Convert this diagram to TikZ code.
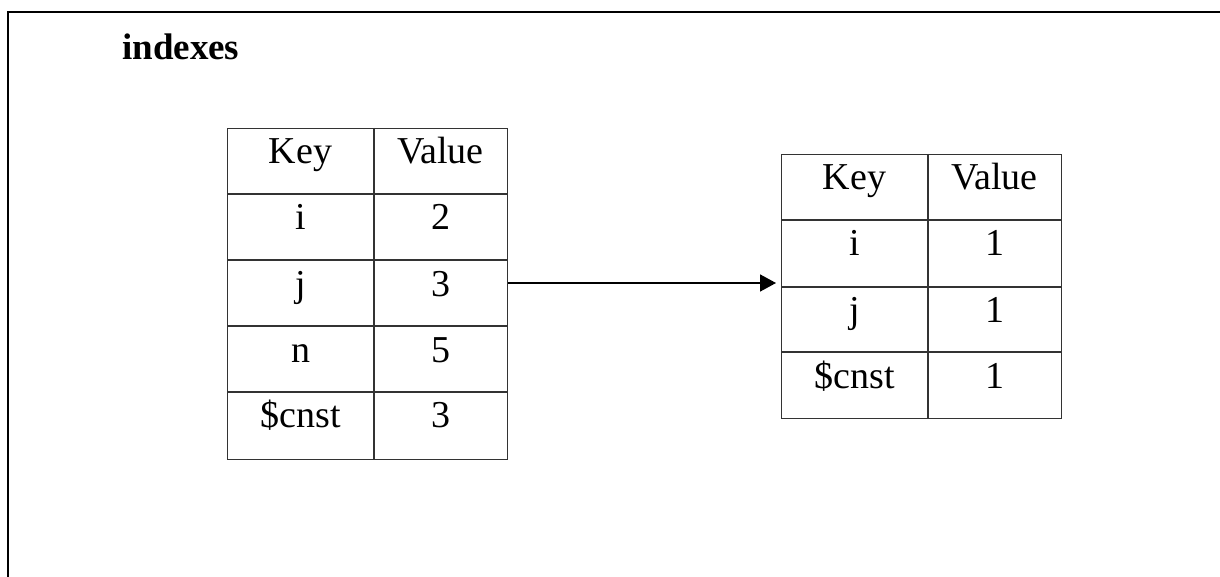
\documentclass[tikz,border=0pt]{standalone}
\usepackage{fontspec}
\setmainfont{Liberation Serif}
\usetikzlibrary{arrows.meta}
\begin{document}
\begin{tikzpicture}[x=1pt,y=-1pt,
  grid/.style={draw=black!80,line width=1.1pt},
  frame/.style={draw=black,line width=2pt},
  celltext/.style={anchor=base,inner sep=0pt,font=\fontsize{38}{42}\selectfont},
  title/.style={anchor=base west,inner sep=0pt,font=\fontsize{37}{42}\selectfont\bfseries},
  conn/.style={draw=black,line width=1.6pt,-{Triangle[length=16pt,width=17pt]}}]
\useasboundingbox (0,0) rectangle (1220,577);
% outer frame (top and left edges only visible)
\draw[frame] (7.5,577) -- (7.5,11.7) -- (1220,11.7);
\node[title] (ttl) at (122,60) {indexes};
% left table
\node[grid,minimum width=280,minimum height=331,inner sep=0pt,anchor=north west] (LT) at (227,128) {};
\draw[grid] (374,128) -- (374,459);
\foreach \y in {194,260,326,392} \draw[grid] (227,\y) -- (507,\y);
\foreach \k/\v/\b [count=\i] in {Key/Value/164, i/2/230, j/3/296, n/5/362, \$cnst/3/427}{
  \node[celltext] (Lk\i) at (300.5,\b) {\k};
  \node[celltext] (Lv\i) at (440.5,\b) {\v};
}
% right table
\node[grid,minimum width=280,minimum height=264,inner sep=0pt,anchor=north west] (RT) at (781,154) {};
\draw[grid] (928,154) -- (928,418);
\foreach \y in {220,287,352} \draw[grid] (781,\y) -- (1061,\y);
\foreach \k/\v/\b [count=\i] in {Key/Value/190, i/1/256, j/1/322, \$cnst/1/388}{
  \node[celltext] (Rk\i) at (854.5,\b) {\k};
  \node[celltext] (Rv\i) at (994.5,\b) {\v};
}
% connector
\coordinate (a) at (LT.east |- 0,283);
\coordinate (b) at (776,283);
\draw[conn] (a) -- (b);
\end{tikzpicture}
\end{document}
